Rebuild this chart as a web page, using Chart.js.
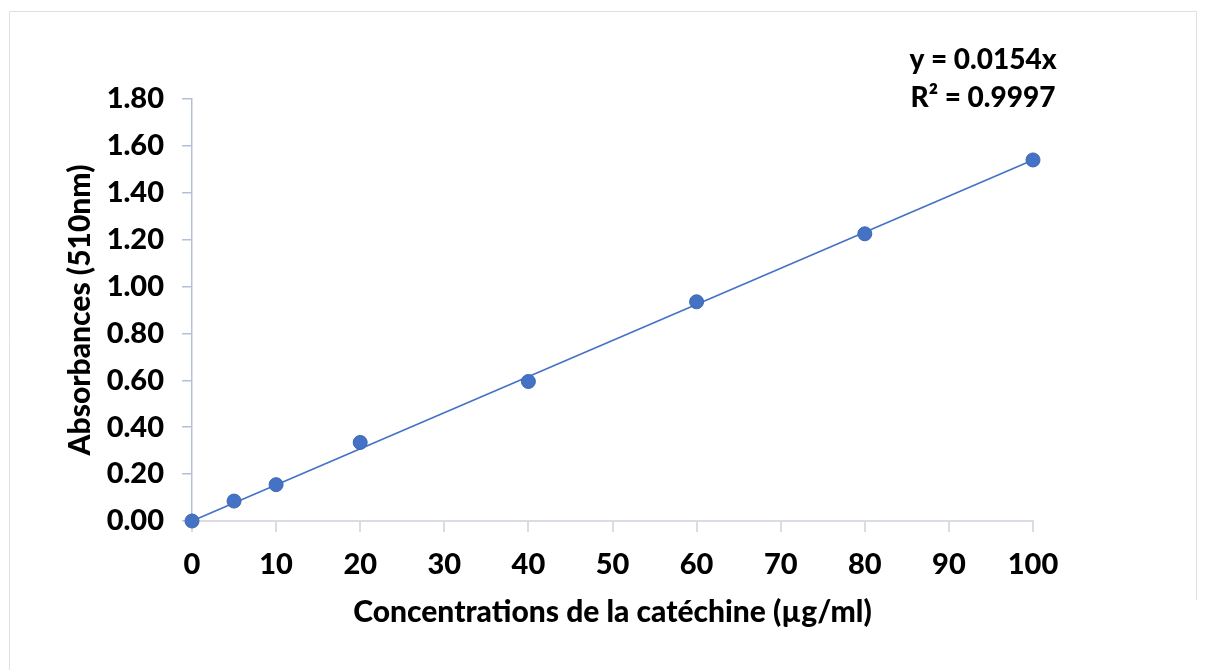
<!DOCTYPE html>
<html>
<head>
<meta charset="utf-8">
<script src="https://cdn.jsdelivr.net/npm/chart.js@4"></script>
<style>
  html, body { margin: 0; padding: 0; background: #ffffff; }
  #wrap { width: 1206px; height: 670px; }
</style>
</head>
<body>
<div id="wrap"><canvas id="c" width="1206" height="670"></canvas></div>
<script>
// Calibration data: catechin concentration (µg/ml) vs absorbance at 510 nm
const concentrations = [0, 5, 10, 20, 40, 60, 80, 100];
const absorbances = [0.000, 0.085, 0.155, 0.335, 0.595, 0.935, 1.225, 1.540];

// Linear fit through origin, as reported
const slope = 0.0154;
const rSquared = '0.9997';
const fitRange = [0, 100];

const xTitle = 'Concentrations de la catéchine (µg/ml)';
const yTitle = 'Absorbances (510nm)';

const FONT = 'Lato, "Open Sans", sans-serif';
const WEIGHT = '900';
const BLUE = '#4472C4';

const scatterPoints = concentrations.map((x, i) => ({ x: x, y: absorbances[i] }));
const fitPoints = fitRange.map(x => ({ x: x, y: slope * x }));

// Light frame around the chart plus the equation text
const decorations = {
  id: 'decorations',
  beforeDraw(chart) {
    const ctx = chart.ctx;
    ctx.save();
    ctx.fillStyle = '#ffffff';
    ctx.fillRect(0, 0, chart.width, chart.height);
    ctx.strokeStyle = '#dde1e6';
    ctx.lineWidth = 1;
    ctx.beginPath();
    ctx.moveTo(9.5, 670);
    ctx.lineTo(9.5, 11.5);
    ctx.lineTo(1196.5, 11.5);
    ctx.lineTo(1196.5, 600);
    ctx.stroke();
    ctx.restore();
  },
  afterDraw(chart) {
    const ctx = chart.ctx;
    ctx.save();
    ctx.fillStyle = '#000000';
    ctx.font = WEIGHT + ' 28px ' + FONT;
    ctx.textAlign = 'center';
    ctx.textBaseline = 'middle';
    ctx.fillText('y = ' + slope + 'x', 983, 60);
    ctx.fillText('R² = ' + rSquared, 983, 98);
    ctx.restore();
  }
};

new Chart(document.getElementById('c'), {
  type: 'scatter',
  data: {
    datasets: [
      {
        type: 'line',
        data: fitPoints,
        borderColor: BLUE,
        borderWidth: 1.6,
        pointRadius: 0,
        fill: false,
        clip: false,
        order: 2
      },
      {
        data: scatterPoints,
        backgroundColor: BLUE,
        borderColor: '#3d67b3',
        borderWidth: 1,
        pointRadius: 7,
        clip: false,
        order: 1
      }
    ]
  },
  options: {
    responsive: false,
    animation: false,
    devicePixelRatio: 1,
    layout: { padding: { left: 0, top: 99, right: 173, bottom: 0 } },
    plugins: {
      legend: { display: false },
      tooltip: { enabled: false }
    },
    scales: {
      x: {
        type: 'linear',
        min: 0,
        max: 100,
        afterFit(scale) { scale.height = 149; },
        ticks: {
          stepSize: 10,
          color: '#000000',
          padding: 15,
          font: { family: FONT, size: 29, weight: WEIGHT }
        },
        grid: {
          drawOnChartArea: false,
          drawTicks: true,
          tickLength: 11,
          color: '#d9dde3',
          lineWidth: 2
        },
        border: { display: true, color: '#d9dde3', width: 2 },
        title: {
          display: true,
          text: xTitle,
          color: '#000000',
          padding: { top: 0, bottom: 40 },
          font: { family: FONT, size: 30, weight: WEIGHT }
        }
      },
      y: {
        type: 'linear',
        min: 0,
        max: 1.8,
        afterFit(scale) { scale.width = 192; },
        ticks: {
          stepSize: 0.2,
          color: '#000000',
          padding: 18,
          callback: v => Number(v).toFixed(2),
          font: { family: FONT, size: 29, weight: WEIGHT }
        },
        grid: {
          drawOnChartArea: false,
          drawTicks: true,
          tickLength: 10,
          color: '#b3c0d8',
          lineWidth: 1.5
        },
        border: { display: true, color: '#b3c0d8', width: 1.5 },
        title: {
          display: true,
          text: yTitle,
          color: '#000000',
          padding: { top: 62, bottom: 0 },
          font: { family: FONT, size: 30, weight: WEIGHT }
        }
      }
    }
  },
  plugins: [decorations]
});
</script>
</body>
</html>
